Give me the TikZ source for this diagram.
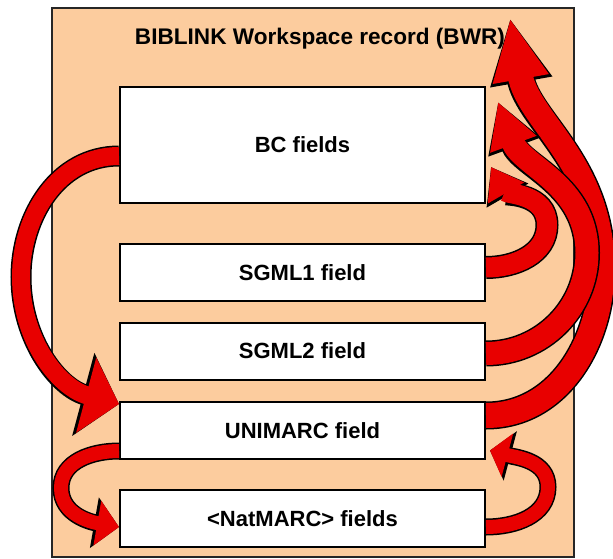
\documentclass[tikz,border=0pt]{standalone}
\usepackage{fontspec}
\setmainfont{Liberation Sans}
\usetikzlibrary{arrows.meta,positioning}

\definecolor{bwrtan}{RGB}{252,204,158}
\definecolor{flowred}{RGB}{232,0,0}

\tikzset{
    field/.style={draw=black, line width=2pt, fill=white, minimum width=365pt,
        minimum height=57pt, inner sep=0pt, font=\fontsize{22}{26}\selectfont\bfseries},
    flow/.style n args={5}{draw=flowred, line width=#1, -{Triangle[length=#2,width=#3]},
        preaction={draw=black, line width=#1+3pt, -{Triangle[length=#4,width=#5]}}},
}

\begin{document}
\begin{tikzpicture}[x=1pt,y=1pt]
    \useasboundingbox (0,0) rectangle (613,558);

    \node[draw=black!85, line width=2pt, fill=bwrtan, minimum width=522pt,
        minimum height=549pt, inner sep=0pt] (bwr) at (313,275.5) {};
    \node[anchor=base, font=\fontsize{22.6}{26}\selectfont\bfseries] (title) at (320,513)
        {BIBLINK Workspace record (BWR)};

    \node[field, minimum height=116pt] (bc) at (302.5,413) {BC fields};
    \node[field] (sgml1) at (302.5,285.5) {SGML1 field};
    \node[field] (sgml2) at (302.5,207) {SGML2 field};
    \node[field] (unimarc) at (302.5,127.5) {UNIMARC field};
    \node[field] (natmarc) at (302.5,39.5) {<NatMARC> fields};

    % left side
    \draw[flow={18pt}{34pt}{76pt}{37pt}{84pt}]
        ([yshift=-11pt]bc.west) to[out=180,in=90] (21,281)
        to[out=-90,in=165] ([yshift=-3pt]unimarc.north west);
    \draw[flow={14pt}{22pt}{44pt}{25pt}{50pt}]
        ([yshift=9pt]unimarc.south west) to[out=180,in=90] (61,70)
        to[out=-90,in=170] ([yshift=-8.5pt]natmarc.west);

    % right side
    \draw[flow={25pt}{62pt}{52pt}{65pt}{58pt}]
        ([yshift=15pt]unimarc.east) to[out=0,in=-90] (602,290)
        to[out=90,in=-80] ([xshift=24pt,yshift=68pt]bc.north east);
    \draw[flow={23pt}{45pt}{46pt}{48pt}{52pt}]
        ([yshift=-2.5pt]sgml2.east) to[out=0,in=-90] (587,305)
        to[out=90,in=-70] ([xshift=12pt,yshift=-16pt]bc.north east);
    \draw[flow={20pt}{30pt}{40pt}{33pt}{46pt}]
        ([yshift=5pt]sgml1.east) to[out=0,in=-90] (547,333)
        to[out=90,in=-60] ([xshift=5pt,yshift=-22pt]bc.east);
    \draw[flow={14pt}{18pt}{44pt}{21pt}{50pt}]
        ([yshift=-8.5pt]natmarc.east) to[out=0,in=-90] (548,71)
        to[out=90,in=-15] ([xshift=4pt,yshift=-20pt]unimarc.east);
\end{tikzpicture}
\end{document}
